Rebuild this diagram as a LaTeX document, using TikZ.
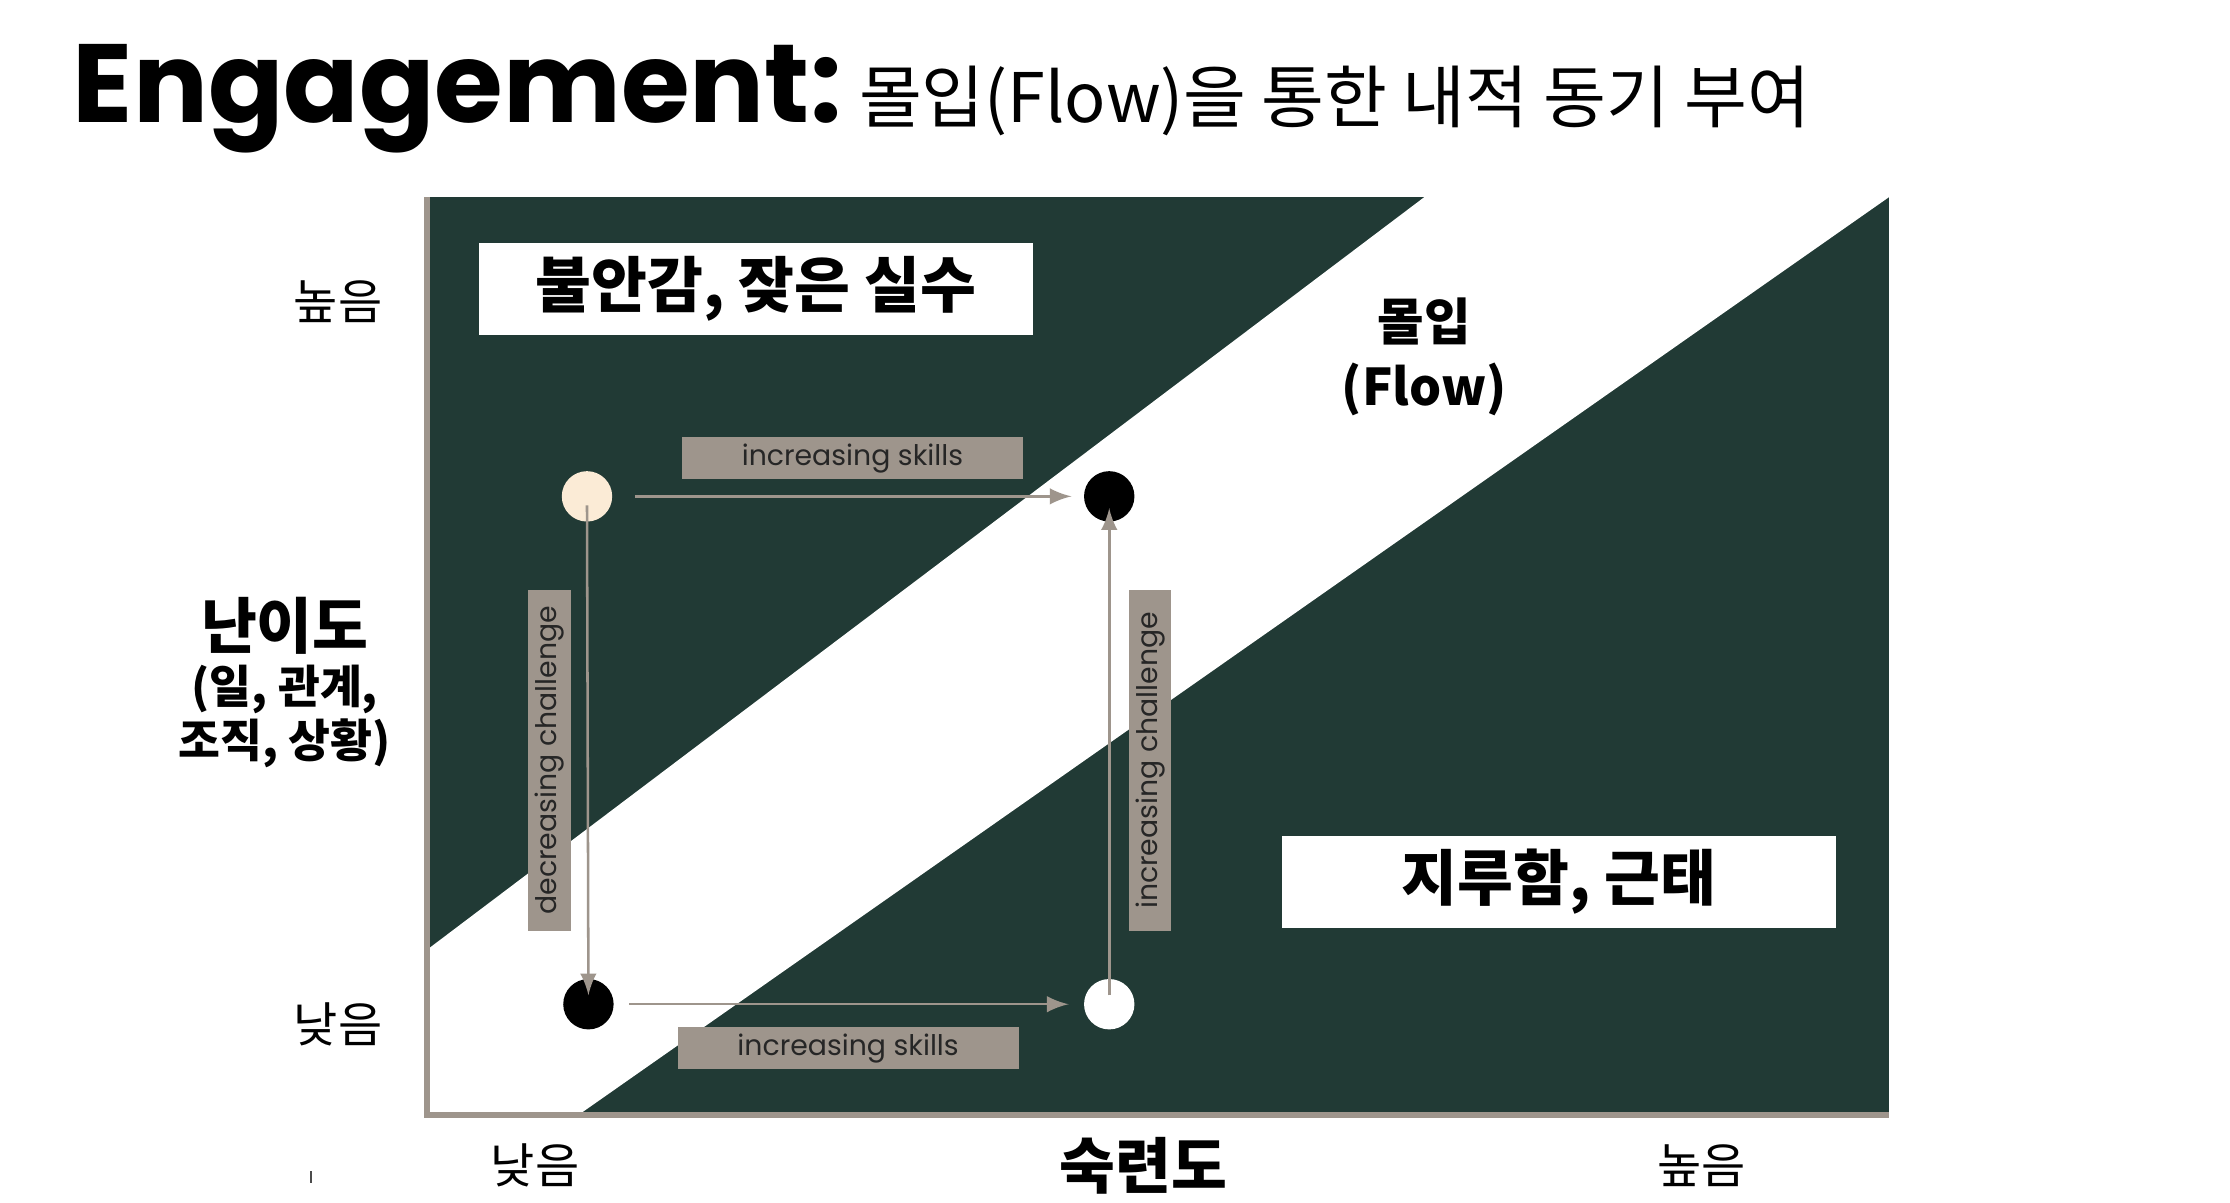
\documentclass[tikz,border=0pt]{standalone}
\usepackage{fontspec}
\setmainfont{Noto Sans CJK KR}
\newfontfamily\pop{Poppins}
\begin{document}
\begin{tikzpicture}[x=0.01cm,y=-0.01cm]
\definecolor{dk}{HTML}{213A35}
\definecolor{gr}{HTML}{9E958C}
\definecolor{cr}{HTML}{FBEBD6}
\tikzset{
 wbox/.style={fill=white,inner sep=0},
 gbox/.style={fill=gr,inner sep=0,font=\pop\fontsize{5.6pt}{6pt}\selectfont,text=black!85},
 dot/.style={circle,minimum size=0.35cm,inner sep=0},
 arr/.style={draw=gr,line width=0.5pt,-latex},
 lab/.style={font=\fontsize{9.5pt}{11pt}\selectfont},
 blab/.style={font=\bfseries\fontsize{9pt}{10.5pt}\selectfont,align=center}
}
\useasboundingbox (0,0) rectangle (1550,836);
\node[anchor=base west,inner sep=0] (t1) at (50,85) {\pop\bfseries\fontsize{22pt}{24pt}\selectfont Engagement:};
\node[anchor=base west,inner sep=0] (t2) at (t1.base east) {\fontsize{13.5pt}{15pt}\selectfont\ 몰입(Flow)을 통한 내적 동기 부여};
\fill[dk] (297,137) rectangle (1313,775);
\fill[white] (297,660) -- (990,137) -- (1313,137) -- (402,775) -- (297,775) -- cycle;
\draw[gr,line width=1.2pt] (297,137) -- (297,775) -- (1313,775);
\node[wbox,minimum width=3.85cm,minimum height=0.64cm] (b1) at (525.5,201) {\bfseries\fontsize{12pt}{14pt}\selectfont 불안감, 잦은 실수};
\node[wbox,minimum width=3.85cm,minimum height=0.64cm] (b2) at (1083.5,613) {\bfseries\fontsize{12pt}{14pt}\selectfont 지루함, 근태};
\node[blab,font=\bfseries\fontsize{10pt}{13pt}\selectfont] (fl) at (990,248) {몰입\\(Flow)};
\node[lab] (yh) at (235,210) {높음};
\node[lab] (yl) at (235,712) {낮음};
\node[lab] (xl) at (372,810) {낮음};
\node[font=\bfseries\fontsize{12pt}{14pt}\selectfont] (xm) at (795,810) {숙련도};
\node[lab] (xh) at (1183,810) {높음};
\node[font=\bfseries\fontsize{12pt}{14pt}\selectfont] (ya) at (198,435) {난이도};
\node[blab] (yb) at (198,498) {(일, 관계,\\조직, 상황)};
\draw[black!70,line width=0.4pt] (216,814) -- (216,822);
\node[dot,fill=cr] (c1) at (408,345) {};
\node[dot,fill=black] (c2) at (771,345) {};
\node[dot,fill=black] (c3) at (409,698) {};
\node[dot,fill=white] (c4) at (771,698) {};
\draw[arr] ([xshift=0.15cm]c1.east) -- ([xshift=-0.08cm]c2.west);
\draw[arr] ([yshift=0.12cm]c1.south) -- ([yshift=-0.12cm]c3.north);
\draw[arr] ([xshift=0.1cm]c3.east) -- ([xshift=-0.1cm]c4.west);
\draw[arr] ([yshift=-0.12cm]c4.north) -- ([yshift=0.1cm]c2.south);
\node[gbox,minimum width=2.37cm,minimum height=0.29cm] (g1) at (592.5,318.5) {increasing skills};
\node[gbox,minimum width=2.37cm,minimum height=0.29cm] (g2) at (589.5,728.5) {increasing skills};
\node[gbox,rotate=90,minimum width=2.37cm,minimum height=0.30cm] (g3) at (382,528.5) {decreasing challenge};
\node[gbox,rotate=90,minimum width=2.37cm,minimum height=0.29cm] (g4) at (799.5,528.5) {increasing challenge};
\end{tikzpicture}
\end{document}
